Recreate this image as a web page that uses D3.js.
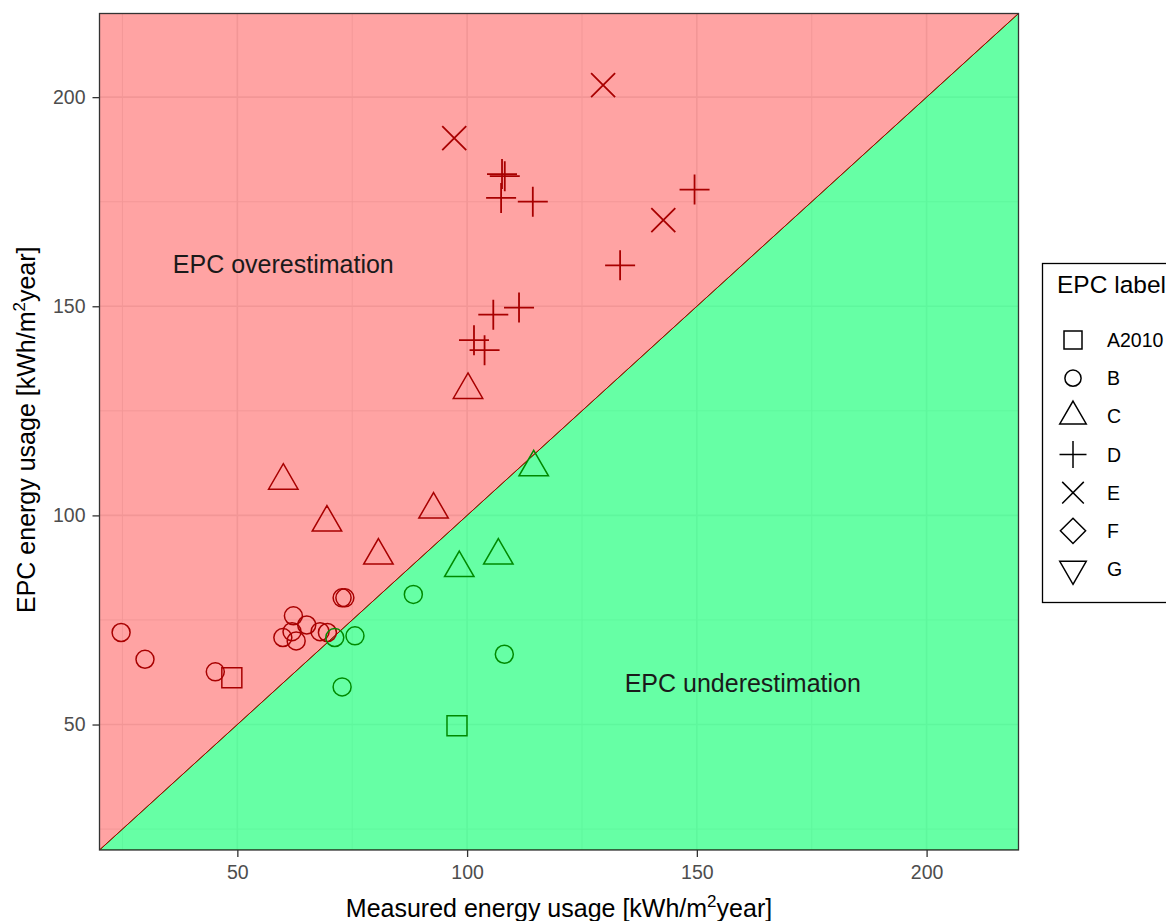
<!DOCTYPE html>
<html>
<head>
<meta charset="utf-8">
<script src="https://cdn.jsdelivr.net/npm/d3@7"></script>
<style>
  html, body { margin: 0; padding: 0; background: #ffffff; }
  svg { display: block; font-family: "Liberation Sans", Arial, sans-serif; }
</style>
</head>
<body>
<svg id="chart" width="1166" height="921"></svg>
<script>
// EPC label categories shown in the legend
const epcLabels = ["A2010", "B", "C", "D", "E", "F", "G"];

// Measured vs EPC energy usage [kWh/m2 year], one pair of arrays per label
const measuredA2010 = [48.8, 97.8];
const epcA2010      = [61.2, 49.7];

const measuredB = [24.7, 29.9, 45.2, 62.2, 65.1, 59.9, 61.9, 62.8, 68.0, 69.6, 72.8, 73.4, 71.2, 75.6, 72.8, 88.3, 108.1];
const epcB      = [72.0, 65.6, 62.6, 76.0, 73.8, 70.8, 72.2, 70.0, 72.2, 72.0, 80.3, 80.3, 70.8, 71.2, 59.0, 81.1, 66.8];

const measuredC = [60.0, 69.5, 80.7, 92.7, 100.2, 114.5, 98.3, 106.8];
const epcC      = [108.3, 98.3, 90.4, 101.4, 130.0, 111.5, 87.4, 90.4];

const measuredD = [107.6, 108.2, 107.4, 114.3, 149.5, 133.3, 111.3, 105.7, 101.5, 103.8];
const epcD      = [181.6, 181.1, 175.9, 175.0, 177.9, 159.8, 149.7, 148.0, 141.9, 139.5];

const measuredE = [97.2, 129.6, 142.7];
const epcE      = [190.2, 202.9, 170.6];

const measuredF = [];
const epcF      = [];
const measuredG = [];
const epcG      = [];

// Axis ticks and region annotations
const xTicks = [50, 100, 150, 200];
const yTicks = [50, 100, 150, 200];
const minorTicks = [25, 75, 125, 175];
const regionNotes = [
  { text: "EPC overestimation",  measured: 60,  epc: 160 },
  { text: "EPC underestimation", measured: 160, epc: 60 }
];

// ---- build point table ----
const seriesByLabel = {
  A2010: [measuredA2010, epcA2010],
  B: [measuredB, epcB],
  C: [measuredC, epcC],
  D: [measuredD, epcD],
  E: [measuredE, epcE],
  F: [measuredF, epcF],
  G: [measuredG, epcG]
};
const points = [];
epcLabels.forEach(lab => {
  const [m, e] = seriesByLabel[lab];
  m.forEach((v, i) => points.push({ label: lab, measured: v, epc: e[i] }));
});

// ---- layout ----
const svg = d3.select("#chart");
const panel = { left: 99.5, top: 13.5, right: 1018.5, bottom: 850 };
const x = d3.scaleLinear().domain([20, 220]).range([panel.left, panel.right]);
const y = d3.scaleLinear().domain([20, 220]).range([panel.bottom, panel.top]);

const overColor = "#A80000";
const underColor = "#008A00";
const tickColor = "#4D4D4D";

svg.append("defs").append("clipPath").attr("id", "panelClip")
  .append("rect")
  .attr("x", panel.left).attr("y", panel.top)
  .attr("width", panel.right - panel.left).attr("height", panel.bottom - panel.top);

const plot = svg.append("g").attr("clip-path", "url(#panelClip)");

// panel background
plot.append("rect")
  .attr("x", panel.left).attr("y", panel.top)
  .attr("width", panel.right - panel.left).attr("height", panel.bottom - panel.top)
  .attr("fill", "#ffffff");

// grid lines (drawn under the translucent regions)
const grid = plot.append("g");
minorTicks.forEach(v => {
  grid.append("line").attr("x1", x(v)).attr("x2", x(v)).attr("y1", panel.top).attr("y2", panel.bottom)
    .attr("stroke", "#EBEBEB").attr("stroke-width", 0.9);
  grid.append("line").attr("y1", y(v)).attr("y2", y(v)).attr("x1", panel.left).attr("x2", panel.right)
    .attr("stroke", "#EBEBEB").attr("stroke-width", 0.9);
});
xTicks.forEach(v => {
  grid.append("line").attr("x1", x(v)).attr("x2", x(v)).attr("y1", panel.top).attr("y2", panel.bottom)
    .attr("stroke", "#EBEBEB").attr("stroke-width", 1.6);
});
yTicks.forEach(v => {
  grid.append("line").attr("y1", y(v)).attr("y2", y(v)).attr("x1", panel.left).attr("x2", panel.right)
    .attr("stroke", "#EBEBEB").attr("stroke-width", 1.6);
});

// over / under estimation regions split by the 1:1 line
const lo = 20, hi = 220;
const regionLine = d3.line().x(d => x(d[0])).y(d => y(d[1]));
plot.append("path")
  .attr("d", regionLine([[lo, lo], [hi, lo], [hi, hi]]) + "Z")
  .attr("fill", "rgb(0,255,105)").attr("fill-opacity", 0.6)
  .attr("stroke", underColor).attr("stroke-width", 1);
plot.append("path")
  .attr("d", regionLine([[lo, lo], [lo, hi], [hi, hi]]) + "Z")
  .attr("fill", "rgb(255,0,0)").attr("fill-opacity", 0.36)
  .attr("stroke", overColor).attr("stroke-width", 1);

// region annotations
regionNotes.forEach(n => {
  plot.append("text")
    .attr("x", x(n.measured)).attr("y", y(n.epc))
    .attr("text-anchor", "middle").attr("dominant-baseline", "central")
    .attr("font-size", 25).attr("fill", "#1A1A1A")
    .text(n.text);
});

// marker shapes per EPC label
function shapePath(label, s) {
  s = s || 1;
  switch (label) {
    case "A2010": { const h = 10 * s; return `M${-h},${-h}H${h}V${h}H${-h}Z`; }
    case "B": { const r = 9 * s; return `M${r},0A${r},${r} 0 1,1 ${-r},0A${r},${r} 0 1,1 ${r},0Z`; }
    case "C": { const r = 17 * s, w = r * Math.sqrt(3) / 2; return `M0,${-r}L${w},${r / 2}L${-w},${r / 2}Z`; }
    case "D": { const a = 15 * s; return `M${-a},0H${a}M0,${-a}V${a}`; }
    case "E": { const a = 12 * s; return `M${-a},${-a}L${a},${a}M${-a},${a}L${a},${-a}`; }
    case "F": { const a = 14 * s; return `M0,${-a}L${a},0L0,${a}L${-a},0Z`; }
    case "G": { const r = 17 * s, w = r * Math.sqrt(3) / 2; return `M0,${r}L${w},${-r / 2}L${-w},${-r / 2}Z`; }
  }
}

// points: colour shows over- or underestimation
plot.append("g").selectAll("path")
  .data(points)
  .join("path")
  .attr("transform", d => `translate(${x(d.measured)},${y(d.epc)})`)
  .attr("d", d => shapePath(d.label))
  .attr("fill", "none")
  .attr("stroke", d => d.epc > d.measured ? overColor : underColor)
  .attr("stroke-width", d => (d.label === "D" || d.label === "E") ? 1.8 : 1.5);

// panel border
svg.append("rect")
  .attr("x", panel.left).attr("y", panel.top)
  .attr("width", panel.right - panel.left).attr("height", panel.bottom - panel.top)
  .attr("fill", "none").attr("stroke", "#333333").attr("stroke-width", 1.3);

// axes
const xAxis = svg.append("g")
  .attr("transform", `translate(0,${panel.bottom})`)
  .call(d3.axisBottom(x).tickValues(xTicks).tickSize(7).tickPadding(8));
const yAxis = svg.append("g")
  .attr("transform", `translate(${panel.left},0)`)
  .call(d3.axisLeft(y).tickValues(yTicks).tickSize(7).tickPadding(7));
[xAxis, yAxis].forEach(a => {
  a.select(".domain").remove();
  a.selectAll(".tick line").attr("stroke", "#333333").attr("stroke-width", 1.3);
  a.selectAll(".tick text")
    .attr("fill", tickColor).attr("font-size", 19.5)
    .attr("font-family", "'Liberation Sans', Arial, sans-serif");
});

// axis titles with superscript
function titleWithSup(sel, before, sup, after) {
  sel.append("tspan").text(before);
  sel.append("tspan").attr("font-size", 17).attr("dy", -10).text(sup);
  sel.append("tspan").attr("dy", 10).text(after);
}
const xTitle = svg.append("text")
  .attr("x", (panel.left + panel.right) / 2).attr("y", 917)
  .attr("text-anchor", "middle").attr("font-size", 25).attr("fill", "#000");
titleWithSup(xTitle, "Measured energy usage [kWh/m", "2", "year]");

const yTitle = svg.append("text")
  .attr("transform", `translate(35,${(panel.top + panel.bottom) / 2 - 2}) rotate(-90)`)
  .attr("text-anchor", "middle").attr("font-size", 25).attr("fill", "#000");
titleWithSup(yTitle, "EPC energy usage [kWh/m", "2", "year]");

// legend
const legend = svg.append("g");
legend.append("rect")
  .attr("x", 1042.5).attr("y", 263.5).attr("width", 200).attr("height", 339)
  .attr("fill", "#ffffff").attr("stroke", "#000000").attr("stroke-width", 1.3);
legend.append("text")
  .attr("x", 1057).attr("y", 293)
  .attr("font-size", 24.5).attr("fill", "#000")
  .text("EPC label");
const rowY = d3.scalePoint().domain(epcLabels).range([340, 569]);
const rows = legend.selectAll("g.row").data(epcLabels).join("g")
  .attr("class", "row")
  .attr("transform", d => `translate(0,${rowY(d)})`);
rows.append("path")
  .attr("transform", "translate(1073,0)")
  .attr("d", d => shapePath(d, 0.9))
  .attr("fill", "none").attr("stroke", "#000").attr("stroke-width", 1.5);
rows.append("text")
  .attr("x", 1107).attr("y", 0).attr("dominant-baseline", "central")
  .attr("font-size", 19.5).attr("fill", "#000")
  .text(d => d);
</script>
</body>
</html>
